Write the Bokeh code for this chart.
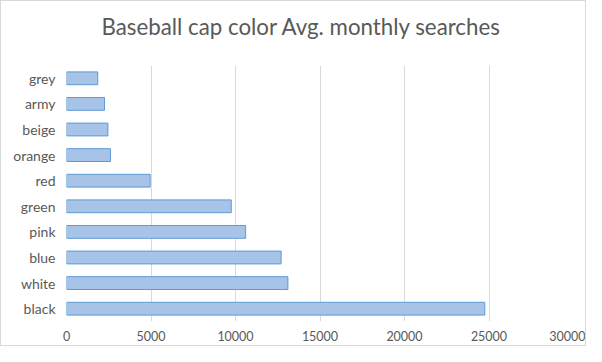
from bokeh.plotting import figure
from bokeh.models import FactorRange, Range1d, Title
from bokeh.embed import file_html
from bokeh.resources import INLINE

title_text = "Baseball cap color Avg. monthly searches"
colors = ["black", "white", "blue", "pink", "green", "red", "orange", "beige", "army", "grey"]
searches = [24750, 13100, 12700, 10600, 9750, 4950, 2600, 2450, 2250, 1850]
x_ticks = [0, 5000, 10000, 15000, 20000, 25000, 30000]

TEXT = "#595959"
FONT = "Lato"

p = figure(
    y_range=FactorRange(factors=colors, range_padding=0),
    x_range=Range1d(0, 30000),
    frame_width=507, frame_height=256,
    min_border_left=65, min_border_right=12, min_border_top=64, min_border_bottom=24,
    output_backend="svg", toolbar_location=None,
)

# spacer between the frame and the title (added first = nearest the frame)
p.add_layout(Title(text=" ", text_font_size="1px", standoff=23), "above")
p.add_layout(Title(text=title_text, align="left", offset=35, standoff=0,
                   text_font=FONT, text_font_size="22.3px", text_font_style="normal",
                   text_color=TEXT), "above")

p.hbar(y=colors, right=searches, left=0, height=0.5,
       fill_color="#a7c3e8", line_color="#5b9bd5", line_width=1)

p.xaxis.ticker = x_ticks
p.xaxis.axis_line_color = None
p.xaxis.major_tick_line_color = None
p.xaxis.minor_tick_line_color = None
p.xaxis.major_tick_out = 0
p.xaxis.major_tick_in = 0
p.xaxis.major_label_text_font = FONT
p.xaxis.major_label_text_font_size = "12.5px"
p.xaxis.major_label_text_color = TEXT
p.xaxis.major_label_standoff = 9

p.yaxis.axis_line_color = None
p.yaxis.major_tick_line_color = None
p.yaxis.minor_tick_line_color = None
p.yaxis.major_tick_out = 0
p.yaxis.major_tick_in = 0
p.yaxis.major_label_text_font = FONT
p.yaxis.major_label_text_font_size = "14px"
p.yaxis.major_label_text_color = TEXT
p.yaxis.major_label_standoff = 11

p.xgrid.grid_line_color = "#d9d9d9"
p.xgrid.grid_line_width = 1
p.ygrid.grid_line_color = None
p.outline_line_color = None
p.styles = {"border": "1px solid #d9d9d9"}

open("out.html", "w").write(file_html(p, INLINE))
